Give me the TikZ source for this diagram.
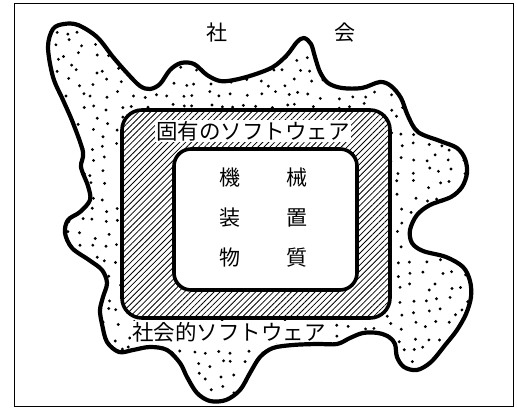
\documentclass[tikz,border=0pt]{standalone}
\usepackage{fontspec}
\setmainfont{Noto Sans CJK JP}
\usetikzlibrary{patterns.meta}
\begin{document}
\begin{tikzpicture}[x=1pt,y=-1pt,
  frameline/.style={line width=1pt},
  blobline/.style={line width=4.2pt, line join=round},
  ringbox/.style={line width=3.6pt, rounded corners=20pt, preaction={fill=white},
    pattern={Lines[angle=45,distance=4.2pt,line width=0.8pt]}},
  corebox/.style={line width=3.6pt, rounded corners=17pt, fill=white},
  biglabel/.style={font=\fontsize{21}{21}\selectfont, inner sep=0pt},
  bandlabel/.style={font=\fontsize{21.5}{22}\selectfont, fill=white, inner sep=0.8pt},
  dot/.style={fill=black}
]
\useasboundingbox (0,0) rectangle (517,411);
\def\blobpath{plot[smooth cycle, tension=0.55] coordinates {
 (48,47) (53,29) (64,24) (78,25) (97,37) (113,57) (127,73) (140,86) (150,89) (160,84)
 (170,70) (181,63) (194,64) (207,75) (220,81) (234,80) (253,75) (273,67) (287,55) (297,42)
 (304,38) (311,44) (315,57) (320,72) (328,83) (342,88) (362,88) (380,82) (391,86) (401,98)
 (408,116) (418,132) (440,141) (457,148) (465,159) (467,173) (462,187) (451,197) (430,205)
 (417,215) (410,230) (412,243) (423,251) (446,257) (463,267) (470,281) (471,297) (466,314)
 (457,330) (446,344) (431,362) (417,370) (404,367) (397,357) (395,344) (389,337) (378,333)
 (363,333) (350,338) (337,344) (317,344) (293,345) (273,348) (260,357) (250,373) (240,390)
 (226,400) (210,401) (197,393) (187,377) (180,363) (167,350) (150,347) (133,350) (119,352)
 (107,342) (102,324) (100,310) (103,297) (107,283) (102,270) (89,260) (72,248) (65,233)
 (68,220) (80,212) (90,200) (88,186) (81,167) (83,152) (73,123) (63,100) (53,77)}}
% frame
\draw[frameline] (14,4) rectangle (513,407);
% stippled society blob
\fill[white] \blobpath;
\pgfmathsetseed{11}
\begin{scope}
\clip \blobpath;
\foreach \i in {0,...,34}{
  \foreach \j in {0,...,30}{
    \pgfmathsetmacro\dx{42+\i*12.8+4.2*rand}
    \pgfmathsetmacro\dy{18+\j*12.8+4.2*rand}
    \fill[dot] (\dx,\dy) circle[radius=1.6];
  }
}
\end{scope}
% label of the social software (its white ground is laid before the outline)
\node[bandlabel] (shakaiteki) at (229,332) {社会的ソフトウェア};
\draw[blobline] \blobpath;
% hatched ring (inherent software)
\draw[ringbox] (122,110) rectangle (390,318);
% core (machines)
\draw[corebox] (174,149) rectangle (357,290);
% labels
\node[biglabel] (sha) at (217,33) {社};
\node[biglabel] (kai) at (345,33) {会};
\node[bandlabel] (koyu) at (253,131) {固有のソフトウェア};
\node[biglabel] (ki1) at (230,178) {機};
\node[biglabel] (kai1) at (297,178) {械};
\node[biglabel] (so) at (230,218) {装};
\node[biglabel] (chi) at (297,218) {置};
\node[biglabel] (butsu) at (230,258) {物};
\node[biglabel] (shitsu) at (297,258) {質};
\end{tikzpicture}
\end{document}
